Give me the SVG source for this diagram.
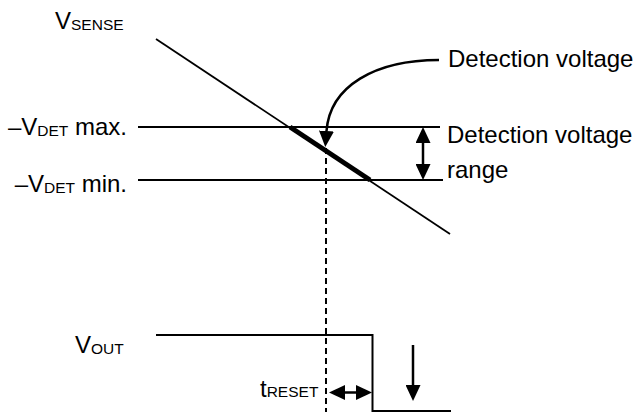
<svg xmlns="http://www.w3.org/2000/svg" width="637" height="412" viewBox="0 0 637 412">
  <style>
    text { font-family: "Liberation Sans", Arial, sans-serif; font-size: 24px; fill: #000; }
    .sub { font-size: 15.5px; }
    .ln { fill: none; stroke: #000; stroke-width: 2; }
    .thin { fill: none; stroke: #000; stroke-width: 1.8; }
    .thick { fill: none; stroke: #000; stroke-width: 5; }
    .dash { fill: none; stroke: #000; stroke-width: 2; stroke-dasharray: 6 4; }
    .arr { fill: none; stroke: #000; stroke-width: 2.5; marker-end: url(#ah); }
    .arr2 { fill: none; stroke: #000; stroke-width: 2.5; marker-start: url(#ah); marker-end: url(#ah); }
  </style>
  <defs>
    <marker id="ah" markerUnits="userSpaceOnUse" viewBox="0 0 16 15" markerWidth="16" markerHeight="15" refX="0" refY="7.5" orient="auto-start-reverse">
      <path d="M0,0 L16,7.5 L0,15 z" fill="#000"/>
    </marker>
  </defs>

  <g id="vsense-label"><text x="55" y="29">V<tspan class="sub" dy="1">SENSE</tspan></text></g>
  <g id="vdet-max-label"><text x="127" y="135" text-anchor="end">–V<tspan class="sub" dy="1">DET</tspan><tspan dy="-1"> max.</tspan></text></g>
  <g id="vdet-min-label"><text x="127" y="192" text-anchor="end">–V<tspan class="sub" dy="1">DET</tspan><tspan dy="-1"> min.</tspan></text></g>
  <g id="detection-voltage-label"><text x="448" y="67">Detection voltage</text></g>
  <g id="detection-range-label"><text x="447" y="143">Detection voltage</text><text x="447" y="178">range</text></g>
  <g id="vout-label"><text x="75" y="353">V<tspan class="sub" dy="1">OUT</tspan></text></g>
  <g id="treset-label"><text x="260" y="397">t<tspan class="sub">RESET</tspan></text></g>

  <g id="levels">
    <line class="ln" x1="138" y1="127" x2="440" y2="127"/>
    <line class="ln" x1="138" y1="180" x2="443" y2="180"/>
  </g>
  <g id="vsense-curve">
    <line class="thin" x1="156" y1="39" x2="450" y2="234"/>
    <line class="thick" x1="290" y1="127" x2="370" y2="180"/>
  </g>
  <g id="vout-wave">
    <polyline class="ln" points="156,335 372.5,335 372.5,411 451,411"/>
  </g>

  <g id="connectors">
    <line class="dash" x1="326" y1="148" x2="326" y2="412"/>
    <path class="arr" d="M439,60 C 375,60 330,86 326.5,131"/>
    <path class="arr2" d="M423,143 L423,164"/>
    <path class="arr2" d="M345,392.5 L356,392.5"/>
    <path class="arr" d="M413,345 L413,385"/>
  </g>
</svg>
